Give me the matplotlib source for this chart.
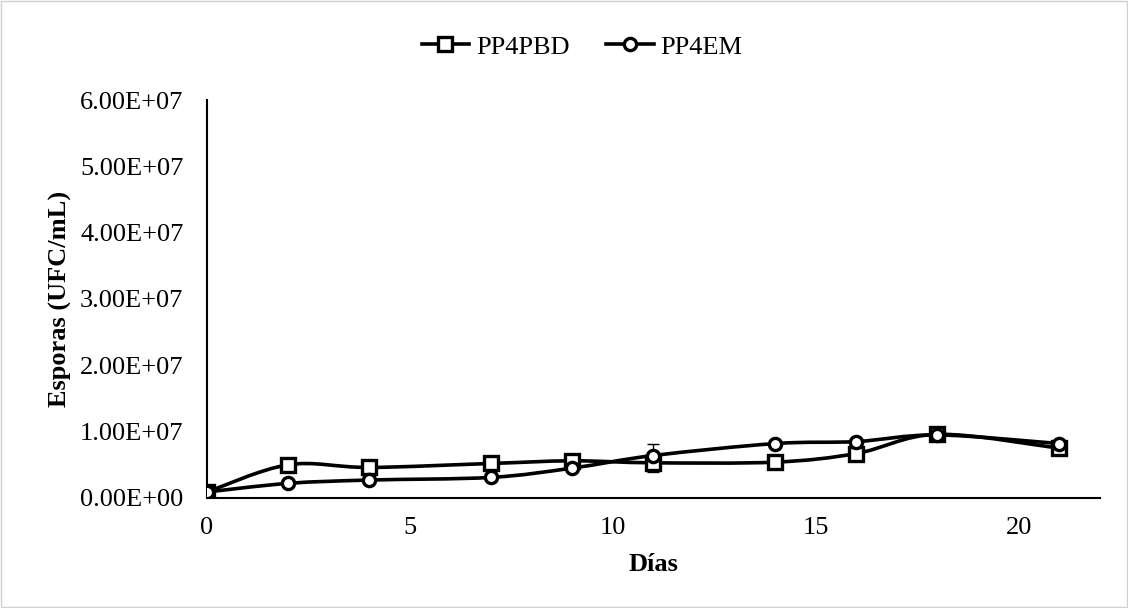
import matplotlib.pyplot as plt
import numpy as np
from matplotlib.path import Path
from matplotlib.patches import PathPatch, Rectangle

# data
dias = [0, 2, 4, 7, 9, 11, 14, 16, 18, 21]
pp4pbd = [0.9e6, 5.0e6, 4.6e6, 5.2e6, 5.6e6, 5.3e6, 5.4e6, 6.7e6, 9.6e6, 7.5e6]
pp4pbd_err = [0.1e6, 0.3e6, 0.2e6, 0.2e6, 0.2e6, 1.4e6, 0.2e6, 0.3e6, 0.2e6, 0.3e6]
pp4em = [0.9e6, 2.2e6, 2.7e6, 3.1e6, 4.5e6, 6.4e6, 8.2e6, 8.5e6, 9.5e6, 8.2e6]
pp4em_err = [0.1e6, 0.2e6, 0.2e6, 0.2e6, 0.3e6, 1.7e6, 0.2e6, 0.3e6, 0.2e6, 0.2e6]
series_names = ['PP4PBD', 'PP4EM']

plt.rcParams['font.family'] = ['Liberation Serif', 'DejaVu Serif']
FS = 19


def smooth_path(x, y):
    """ Excel-like smoothed line as cubic Bezier segments """
    x = np.asarray(x, float)
    y = np.asarray(y, float)
    n = len(x)
    verts = [(x[0], y[0])]
    codes = [Path.MOVETO]
    for i in range(n - 1):
        i0 = max(i - 1, 0)
        i3 = min(i + 2, n - 1)
        c1 = (x[i] + (x[i + 1] - x[i0]) / 6, y[i] + (y[i + 1] - y[i0]) / 6)
        c2 = (x[i + 1] - (x[i3] - x[i]) / 6, y[i + 1] - (y[i3] - y[i]) / 6)
        verts += [c1, c2, (x[i + 1], y[i + 1])]
        codes += [Path.CURVE4] * 3
    return Path(verts, codes)


fig = plt.figure(figsize=(11.28, 6.08), dpi=100)
ax = fig.add_axes([0.1835, 0.181, 0.7915, 0.6545])

styles = [('s', 10.5), ('o', 8.8)]
handles = []
for vals, errs, name, (mk, ms) in zip([pp4pbd, pp4em], [pp4pbd_err, pp4em_err],
                                     series_names, styles):
    ax.add_patch(PathPatch(smooth_path(dias, vals), facecolor='none',
                           edgecolor='black', lw=2.6, zorder=2))
    ax.errorbar(dias, vals, yerr=errs, fmt='none', ecolor='black',
                elinewidth=1, capsize=4, capthick=1, zorder=2)
    ax.plot(dias, vals, ls='none', marker=mk, ms=ms, mfc='white',
            mec='black', mew=2.4, zorder=3)
    h, = ax.plot([], [], color='black', lw=2.6, marker=mk, ms=ms,
                 mfc='white', mec='black', mew=2.4, label=name)
    handles.append(h)

ax.set_xlim(0, 22)
ax.set_ylim(0, 6e7)
ax.set_xticks([0, 5, 10, 15, 20])
ax.set_yticks(np.arange(0, 6.01e7, 1e7))
ax.set_yticklabels([f'{v:.2E}' for v in np.arange(0, 6.01e7, 1e7)])
ax.tick_params(length=0, labelsize=FS)
ax.tick_params(axis='x', pad=14)
ax.tick_params(axis='y', pad=17)
for s in ['top', 'right']:
    ax.spines[s].set_visible(False)
ax.spines['left'].set_linewidth(1.5)
ax.spines['bottom'].set_linewidth(1.5)

ax.set_xlabel('Días', fontsize=FS, fontweight='bold', labelpad=10)
ax.set_ylabel('Esporas (UFC/mL)', fontsize=FS, fontweight='bold', labelpad=6)

fig.legend(handles=handles, loc='center', bbox_to_anchor=(0.516, 0.923),
           ncol=2, frameon=False, fontsize=FS, handlelength=1.8,
           columnspacing=1.4, handletextpad=0.25)

fig.patches.append(Rectangle((0.001, 0.001), 0.998, 0.997, transform=fig.transFigure,
                             fill=False, edgecolor='#d0d0d0', lw=1))

fig.savefig('out.png', dpi=100, facecolor='white')
